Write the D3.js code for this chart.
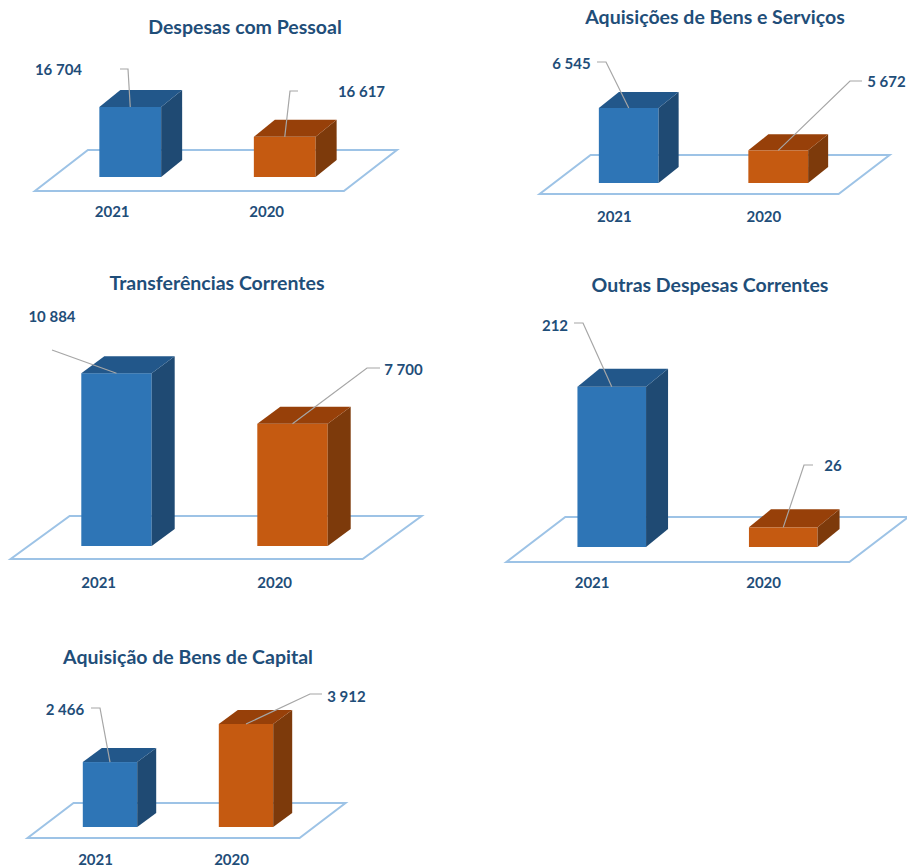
<!DOCTYPE html>
<html>
<head>
<meta charset="utf-8">
<script src="https://cdn.jsdelivr.net/npm/d3@7"></script>
<style>
  html, body { margin: 0; padding: 0; background: #fff; }
  svg { display: block; }
  text { font-family: Lato, "Open Sans", sans-serif; font-weight: 700; fill: #1F4E79; }
</style>
</head>
<body>
<svg id="chart" width="907" height="868"></svg>
<script>
// ---------- DATA ----------
const titles = [
  "Despesas com Pessoal",
  "Aquisições de Bens e Serviços",
  "Transferências Correntes",
  "Outras Despesas Correntes",
  "Aquisição de Bens de Capital"
];
const categories = ["2021", "2020"];
const despesasPessoal = [16704, 16617];
const aquisicoesBensServicos = [6545, 5672];
const transferenciasCorrentes = [10884, 7700];
const outrasDespesasCorrentes = [212, 26];
const aquisicaoBensCapital = [2466, 3912];
const seriesValues = [despesasPessoal, aquisicoesBensServicos, transferenciasCorrentes, outrasDespesasCorrentes, aquisicaoBensCapital];
const axisMin = [16500, 5000, 0, 0, 0];
const axisMax = [16750, 7000, 12000, 250, 4500];

// ---------- LAYOUT ----------
const layout = [
  { x0: 53, x1: 362, base: 177, fdy: 14, bdy: 27, slope: 1.293, ddx: 21, ddy: 17, plotH: 85.8,
    tx: 245, ty: 27, catY: 212,
    labels: [ { x: 58.5, y: 70, ex: 128, ey: 69, hx: 120 }, { x: 361.5, y: 92, ex: 290, ey: 91, hx: 298 } ] },
  { x0: 554, x1: 853, base: 183, fdy: 11, bdy: 28, slope: 1.308, ddx: 20, ddy: 16, plotH: 97.2,
    tx: 715, ty: 17, catY: 217,
    labels: [ { x: 571.5, y: 64, ex: 606, ey: 62, hx: 597 }, { x: 886.5, y: 82, ex: 850, ey: 81, hx: 862 } ] },
  { x0: 28.5, x1: 380.5, base: 546, fdy: 13, bdy: 30, slope: 1.372, ddx: 23, ddy: 17, plotH: 190.5,
    tx: 217, ty: 283, catY: 583,
    labels: [ { x: 52, y: 317, ex: 52, ey: 350, hx: 52 }, { x: 403.5, y: 370, ex: 367, ey: 368, hx: 380 } ] },
  { x0: 526, x1: 869, base: 547, fdy: 15, bdy: 30, slope: 1.31, ddx: 22, ddy: 18, plotH: 189,
    tx: 710, ty: 285, catY: 583,
    labels: [ { x: 555, y: 326, ex: 583, ey: 323, hx: 574 }, { x: 833, y: 466, ex: 804, ey: 465, hx: 813 } ] },
  { x0: 42, x1: 314, base: 827, fdy: 11, bdy: 24, slope: 1.314, ddx: 19, ddy: 14, plotH: 118.5,
    tx: 188, ty: 657, catY: 860,
    labels: [ { x: 65, y: 710, ex: 100, ey: 708, hx: 91 }, { x: 346.5, y: 697, ex: 310, ey: 694, hx: 322 } ] }
];

const colors = [
  { front: "#2E75B6", top: "#22578A", side: "#1F4A73" },
  { front: "#C55A11", top: "#974009", side: "#7D3A0B" }
];

const fmt = d3.formatLocale({ decimal: ",", thousands: " ", grouping: [3], currency: ["", ""] }).format(",d");

const svg = d3.select("#chart");

seriesValues.forEach((vals, i) => {
  const L = layout[i];
  const g = svg.append("g");

  const x = d3.scaleBand().domain(categories).range([L.x0, L.x1]).paddingInner(0.6).paddingOuter(0.3);
  const y = d3.scaleLinear().domain([axisMin[i], axisMax[i]]).range([L.base, L.base - L.plotH]);

  const [r0, r1] = x.range();
  const fy = L.base + L.fdy, by = L.base - L.bdy;
  const floorPts = [
    [r0 - L.fdy * L.slope, fy],
    [r1 - L.fdy * L.slope, fy],
    [r1 + L.bdy * L.slope, by],
    [r0 + L.bdy * L.slope, by]
  ];
  g.append("polygon")
    .attr("points", floorPts.map(p => p.join(",")).join(" "))
    .attr("fill", "#fff")
    .attr("stroke", "#9DC3E6")
    .attr("stroke-width", 2)
    .attr("stroke-linejoin", "miter");

  // title
  g.append("text")
    .attr("x", L.tx).attr("y", L.ty).attr("dy", "0.36em")
    .attr("text-anchor", "middle")
    .style("font-size", "19.5px")
    .text(titles[i]);

  const w = x.bandwidth();
  categories.forEach((c, j) => {
    const bx = x(c), yt = y(vals[j]), yb = y(axisMin[i]);
    const col = colors[j];
    // front
    g.append("rect").attr("x", bx).attr("y", yt).attr("width", w).attr("height", yb - yt).attr("fill", col.front);
    // side
    g.append("polygon")
      .attr("points", [[bx + w, yt], [bx + w + L.ddx, yt - L.ddy], [bx + w + L.ddx, yb - L.ddy], [bx + w, yb]].map(p => p.join(",")).join(" "))
      .attr("fill", col.side);
    // top
    g.append("polygon")
      .attr("points", [[bx, yt], [bx + w, yt], [bx + w + L.ddx, yt - L.ddy], [bx + L.ddx, yt - L.ddy]].map(p => p.join(",")).join(" "))
      .attr("fill", col.top);

    // leader line
    const lab = L.labels[j];
    const cx = bx + w / 2;
    g.append("polyline")
      .attr("points", [[lab.hx, lab.ey], [lab.ex, lab.ey], [cx, yt]].map(p => p.join(",")).join(" "))
      .attr("fill", "none")
      .attr("stroke", "#A6A6A6")
      .attr("stroke-width", 1.2);

    // value label
    g.append("text")
      .attr("x", lab.x).attr("y", lab.y).attr("dy", "0.36em")
      .attr("text-anchor", "middle")
      .style("font-size", "15px")
      .text(fmt(vals[j]));

    // category label
    g.append("text")
      .attr("x", cx - L.fdy * L.slope).attr("y", L.catY).attr("dy", "0.36em")
      .attr("text-anchor", "middle")
      .style("font-size", "15px")
      .text(c);
  });
});
</script>
</body>
</html>
